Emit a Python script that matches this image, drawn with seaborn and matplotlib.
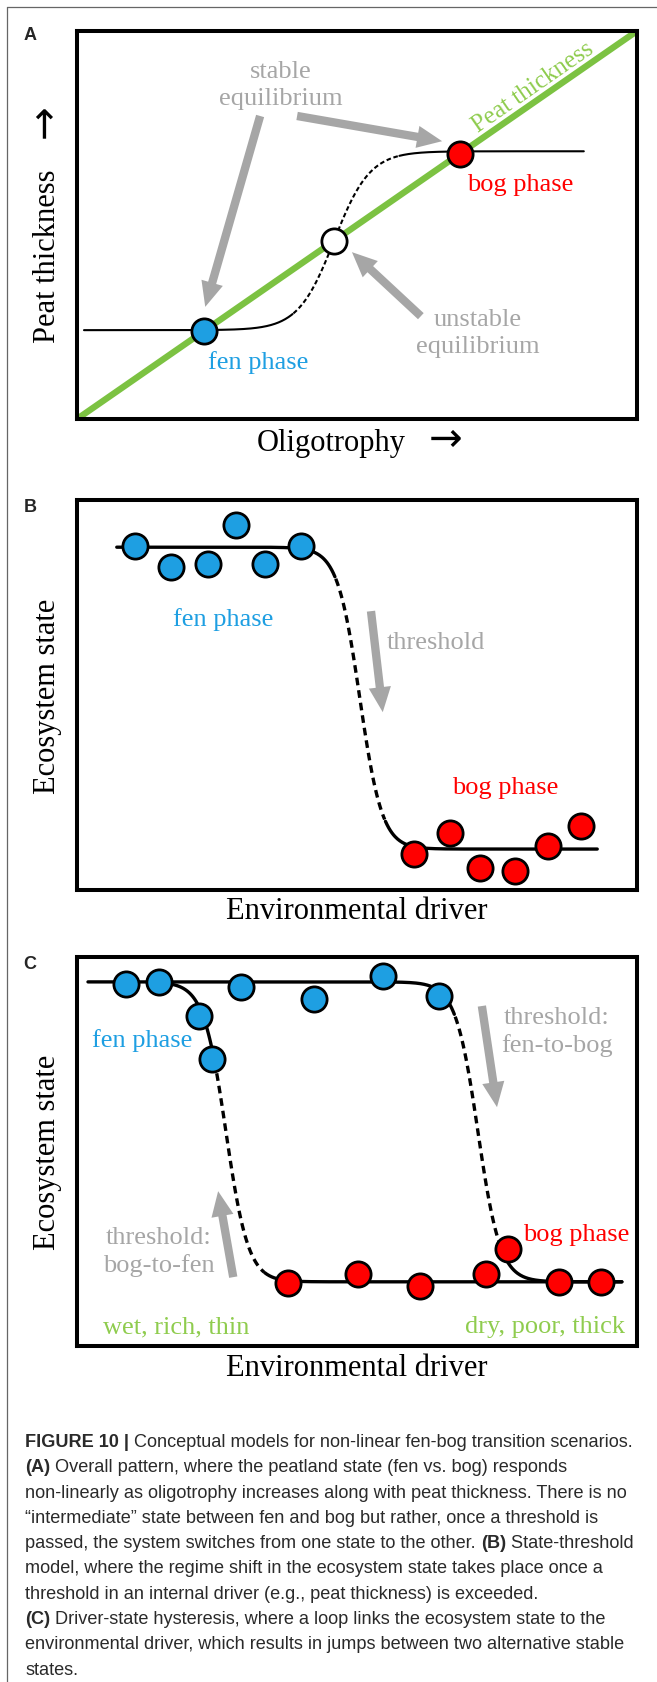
import numpy as np
import matplotlib
matplotlib.use("Agg")
import matplotlib.pyplot as plt
from matplotlib.lines import Line2D
from matplotlib import font_manager
import seaborn as sns

# ---------------- data ----------------
# Panel A: equilibria on the peat-thickness line (x = oligotrophy, y = peat thickness)
eq_x = [0.227, 0.459, 0.684]
eq_y = [0.227, 0.459, 0.684]
eq_kind = ["fen", "unstable", "bog"]
a_levels = (0.229, 0.69)          # fen / bog plateau of the response curve
a_mid, a_width = 0.459, 0.032
a_span = (0.0125, 0.905)
a_dashed = (0.385, 0.575)

# Panel B: state-threshold model
b_fen_x = [0.104, 0.168, 0.234, 0.284, 0.336, 0.400]
b_fen_y = [0.882, 0.828, 0.836, 0.936, 0.836, 0.882]
b_bog_x = [0.602, 0.666, 0.720, 0.782, 0.841, 0.900]
b_bog_y = [0.092, 0.146, 0.056, 0.049, 0.113, 0.164]
b_levels = (0.879, 0.105)
b_mid, b_width = 0.505, 0.020
b_span = (0.071, 0.929)
b_dashed = (0.462, 0.550)

# Panel C: driver-state hysteresis
c_fen_x = [0.0875, 0.146, 0.293, 0.423, 0.546, 0.646, 0.218, 0.241]
c_fen_y = [0.931, 0.936, 0.923, 0.892, 0.951, 0.900, 0.848, 0.737]
c_bog_x = [0.377, 0.502, 0.613, 0.730, 0.770, 0.861, 0.936]
c_bog_y = [0.162, 0.185, 0.154, 0.185, 0.249, 0.165, 0.165]
c_levels = (0.936, 0.165)
c_fwd_mid, c_fwd_width = 0.716, 0.020     # fen-to-bog switch
c_fwd_span = (0.0196, 0.973)
c_fwd_dashed = (0.675, 0.760)
c_bwd_mid, c_bwd_width = 0.266, 0.020     # bog-to-fen switch
c_bwd_span = (0.146, 0.973)
c_bwd_dashed = (0.245, 0.335)

caption_lines = [
    [("FIGURE 10 |", True), (" Conceptual models for non-linear fen-bog transition scenarios.", False)],
    [("(A)", True), (" Overall pattern, where the peatland state (fen vs. bog) responds", False)],
    [("non-linearly as oligotrophy increases along with peat thickness. There is no", False)],
    [("\u201cintermediate\u201d state between fen and bog but rather, once a threshold is", False)],
    [("passed, the system switches from one state to the other. ", False), ("(B)", True),
     (" State-threshold", False)],
    [("model, where the regime shift in the ecosystem state takes place once a", False)],
    [("threshold in an internal driver (e.g., peat thickness) is exceeded.", False)],
    [("(C)", True), (" Driver-state hysteresis, where a loop links the ecosystem state to the", False)],
    [("environmental driver, which results in jumps between two alternative stable", False)],
    [("states.", False)],
]

# ---------------- style ----------------
sns.set_style("white")
plt.rcParams["font.family"] = ["Liberation Serif", "DejaVu Serif"]

BLUE = "#1E9FE2"
RED = "#FF0000"
GRAY = "#A6A6A6"
GREEN = "#7CC242"
GREEN_TXT = "#8FCC4E"
SERIF = ["Liberation Serif", "DejaVu Serif"]
ARROW_FONT = ["DejaVu Sans"]
ANNOT_SIZE = 19
AXIS_SIZE = 22

W, H = 657, 1683
fig = plt.figure(figsize=(W / 100, H / 100), dpi=100)


def px_axes(x0, y0, x1, y1):
    ax = fig.add_axes([x0 / W, 1 - y1 / H, (x1 - x0) / W, (y1 - y0) / H])
    ax.set_xlim(0, 1)
    ax.set_ylim(0, 1)
    ax.set_xticks([])
    ax.set_yticks([])
    for sp in ax.spines.values():
        sp.set_visible(True)
        sp.set_linewidth(2.9)
        sp.set_color("black")
    return ax


def switch_curve(x, left, right, mid, width):
    return right + (left - right) / (1 + np.exp((x - mid) / width))


def draw_switch(ax, span, dashed, left, right, mid, width, lw, dash):
    xs = np.linspace(span[0], span[1], 600)
    ys = switch_curve(xs, left, right, mid, width)
    parts = [(xs <= dashed[0], False), ((xs >= dashed[0]) & (xs <= dashed[1]), True),
             (xs >= dashed[1], False)]
    for mask, is_dashed in parts:
        sns.lineplot(x=xs[mask], y=ys[mask], ax=ax, color="black", lw=lw,
                     sort=False, estimator=None, zorder=3)
        if is_dashed:
            ax.lines[-1].set_dashes(dash)
            ax.lines[-1].set_dash_capstyle("butt")


def dots(ax, xs, ys, color):
    sns.scatterplot(x=xs, y=ys, ax=ax, s=330, color=color, edgecolor="black",
                    linewidth=2.0, zorder=5, legend=False, clip_on=False)


def arrow(ax, tail, tip):
    ax.annotate("", xy=tip, xytext=tail, xycoords="data", textcoords="data",
                arrowprops=dict(arrowstyle="simple,head_length=0.9,head_width=0.8,tail_width=0.3",
                                color=GRAY, lw=0, mutation_scale=20, shrinkA=0, shrinkB=0),
                zorder=2)


def label(ax, x, y, s, color, size=ANNOT_SIZE, **kw):
    ax.text(x, y, s, color=color, fontsize=size, family=SERIF, ha="center", va="center",
            linespacing=1.3, **kw)


def xtitle(s, cx, cy):
    fig.text(cx / W, 1 - cy / H, s, fontsize=AXIS_SIZE, family=SERIF,
             ha="center", va="center", color="black")


def ytitle(s, cx, cy):
    fig.text(cx / W, 1 - cy / H, s, fontsize=AXIS_SIZE, family=SERIF,
             ha="center", va="center", rotation=90, color="black")


# ---------------- panel A ----------------
axA = px_axes(77, 32, 637, 420)
sns.lineplot(x=[0, 1], y=[0, 1], ax=axA, color=GREEN, lw=4.6, zorder=2,
             sort=False, estimator=None)
draw_switch(axA, a_span, a_dashed, a_levels[0], a_levels[1], a_mid, a_width, 1.5, (2.2, 1.3))
fills = {"fen": BLUE, "unstable": "white", "bog": RED}
for x, y, k in zip(eq_x, eq_y, eq_kind):
    dots(axA, [x], [y], fills[k])
axA.text(0.814, 0.858, "Peat thickness", color=GREEN_TXT, fontsize=18, family=SERIF,
         rotation=34.7, rotation_mode="anchor", ha="center", va="center")
label(axA, 0.364, 0.862, "stable\nequilibrium", GRAY)
label(axA, 0.716, 0.222, "unstable\nequilibrium", GRAY)
label(axA, 0.791, 0.606, "bog phase", RED)
label(axA, 0.323, 0.147, "fen phase", BLUE)
arrow(axA, (0.327, 0.781), (0.229, 0.289))
arrow(axA, (0.393, 0.781), (0.652, 0.716))
arrow(axA, (0.614, 0.265), (0.491, 0.430))
xtitle("Oligotrophy", 331, 443)
fig.text(446 / W, 1 - 440 / H, "\u2192", fontsize=29, family=ARROW_FONT,
         ha="center", va="center", color="black")
ytitle("Peat thickness", 48, 256)
fig.text(45 / W, 1 - 121 / H, "\u2192", fontsize=29, family=ARROW_FONT,
         ha="center", va="center", rotation=90, color="black")

# ---------------- panel B ----------------
axB = px_axes(77, 501, 637, 891)
draw_switch(axB, b_span, b_dashed, b_levels[0], b_levels[1], b_mid, b_width, 2.4, (2.3, 1.5))
dots(axB, b_fen_x, b_fen_y, BLUE)
dots(axB, b_bog_x, b_bog_y, RED)
label(axB, 0.261, 0.695, "fen phase", BLUE)
axB.text(0.553, 0.636, "threshold", color=GRAY, fontsize=ANNOT_SIZE, family=SERIF,
         ha="left", va="center")
label(axB, 0.764, 0.264, "bog phase", RED)
arrow(axB, (0.525, 0.715), (0.546, 0.456))
xtitle("Environmental driver", 357, 912)
ytitle("Ecosystem state", 48, 696)

# ---------------- panel C ----------------
axC = px_axes(77, 958, 637, 1347)
draw_switch(axC, c_fwd_span, c_fwd_dashed, c_levels[0], c_levels[1], c_fwd_mid, c_fwd_width,
            2.4, (2.3, 1.5))
draw_switch(axC, c_bwd_span, c_bwd_dashed, c_levels[0], c_levels[1], c_bwd_mid, c_bwd_width,
            2.4, (2.3, 1.5))
dots(axC, c_fen_x, c_fen_y, BLUE)
dots(axC, c_bog_x, c_bog_y, RED)
label(axC, 0.116, 0.789, "fen phase", BLUE)
label(axC, 0.857, 0.810, "threshold:\nfen-to-bog", GRAY)
label(axC, 0.891, 0.288, "bog phase", RED)
label(axC, 0.146, 0.244, "threshold:\nbog-to-fen", GRAY)
label(axC, 0.177, 0.051, "wet, rich, thin", GREEN_TXT)
label(axC, 0.836, 0.051, "dry, poor, thick", GREEN_TXT)
arrow(axC, (0.723, 0.874), (0.750, 0.614))
arrow(axC, (0.279, 0.177), (0.252, 0.398))
xtitle("Environmental driver", 357, 1369)
ytitle("Ecosystem state", 48, 1152)

# panel letters
for letter, ypx in [("A", 35), ("B", 508), ("C", 965)]:
    fig.text(30 / W, 1 - ypx / H, letter, fontsize=13, fontweight="bold",
             family=["Liberation Sans", "DejaVu Sans"], ha="center", va="center")

# outer frame (top and left rules)
fig.add_artist(Line2D([7 / W, 1], [1 - 8 / H, 1 - 8 / H], transform=fig.transFigure,
                      color="#666666", lw=0.9))
fig.add_artist(Line2D([7 / W, 7 / W], [0, 1 - 8 / H], transform=fig.transFigure,
                      color="#666666", lw=0.9))

# ---------------- caption ----------------
names = {f.name for f in font_manager.fontManager.ttflist}
cap_family = "Liberation Sans Narrow" if "Liberation Sans Narrow" in names else "Liberation Sans"
renderer = fig.canvas.get_renderer()


def run_width(s, size, bold):
    prop = font_manager.FontProperties(family=cap_family, size=size,
                                       weight="bold" if bold else "normal")
    w1, _, _ = renderer.get_text_width_height_descent("|" + s + "|", prop, ismath=False)
    w0, _, _ = renderer.get_text_width_height_descent("||", prop, ismath=False)
    return w1 - w0


ref_size = 10.0
w_line1 = sum(run_width(s, ref_size, b) for s, b in caption_lines[0])
cap_size = ref_size * 610.0 / w_line1

x_start = 25
for i, runs in enumerate(caption_lines):
    y_px = 1447 + 25.3 * i
    x = x_start
    for s, b in runs:
        fig.text(x / W, 1 - y_px / H, s, fontsize=cap_size, family=cap_family,
                 fontweight="bold" if b else "normal", color="#2a2a2a",
                 ha="left", va="baseline")
        x += run_width(s, cap_size, b)

fig.savefig("out.png", dpi=100)
